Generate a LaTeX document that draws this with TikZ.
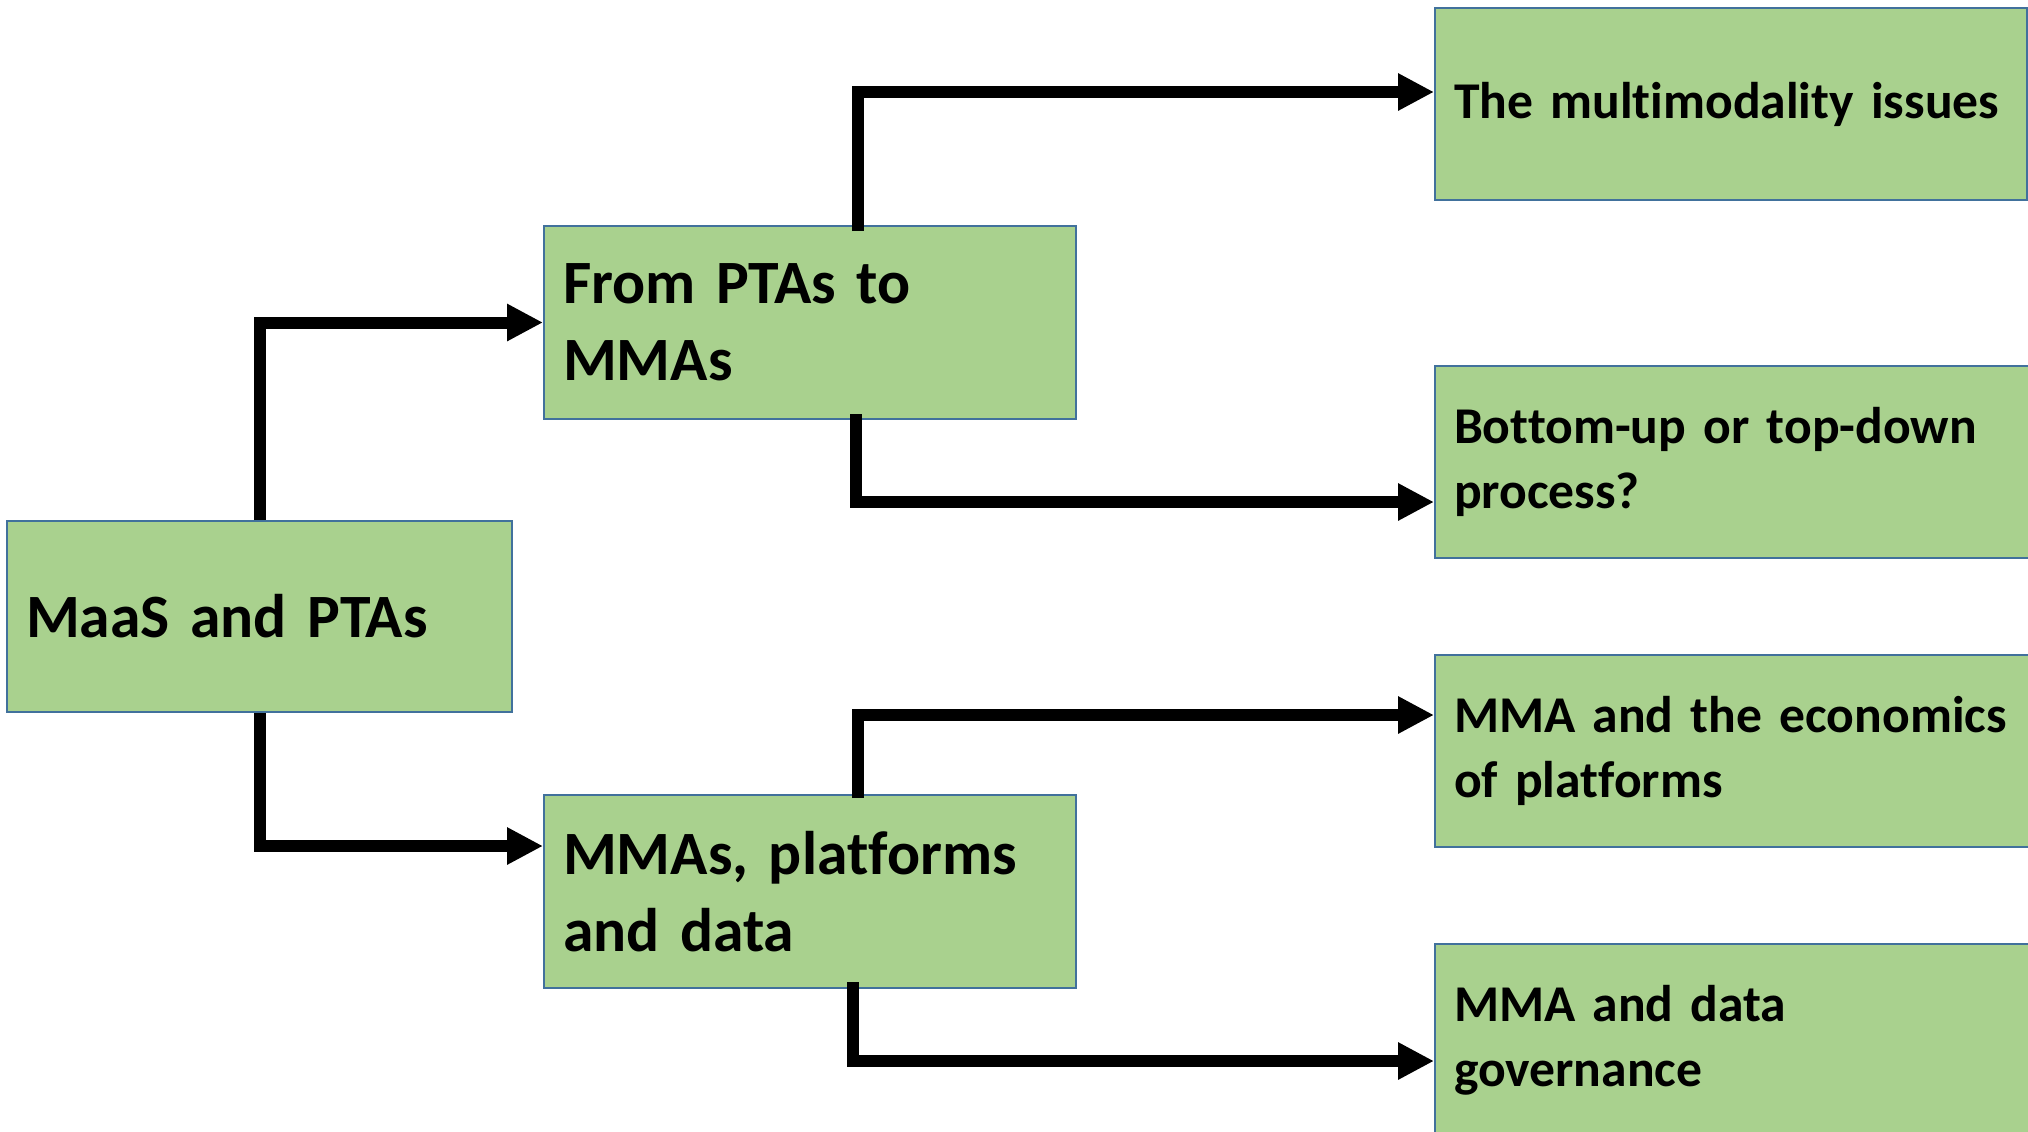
\documentclass[tikz,border=0pt]{standalone}
\usepackage{fontspec}
\setmainfont{Carlito}[Ligatures=NoCommon]
\usetikzlibrary{arrows.meta,calc}
\definecolor{boxfill}{HTML}{A9D18E}
\definecolor{boxline}{HTML}{41719C}
\tikzset{
  box/.style={draw=boxline, line width=1pt, fill=boxfill, anchor=north west,
    inner xsep=9.5pt, inner ysep=0pt, align=left},
  bigtext/.style={font=\fontsize{30.8}{38.5}\selectfont\bfseries},
  smalltext/.style={font=\fontsize{25.8}{32.5}\selectfont\bfseries},
  conn/.style={line width=6pt, line join=miter, -{Triangle[length=18pt,width=17.5pt]}}
}
\begin{document}
\begin{tikzpicture}[x=0.5pt,y=-0.5pt]
\clip (0,0) rectangle (2028,1131);
\fill[white] (0,0) rectangle (2028,1131);
\node[box,bigtext,text width=233.5pt,minimum height=95.5pt] (root) at (6,520) {MaaS and PTAs};
\node[box,bigtext,text width=247pt,minimum height=96.5pt] (mid1) at (543,225) {From PTAs to\\MMAs};
\node[box,bigtext,text width=247pt,minimum height=96.5pt] (mid2) at (543,794) {MMAs, platforms\\and data};
\node[box,smalltext,text width=277pt,minimum height=96pt] (r1) at (1434,7) {The multimodality issues};
\node[box,smalltext,text width=286pt,minimum height=96pt] (r2) at (1434,365) {Bottom-up or top-down\\process?};
\node[box,smalltext,text width=286pt,minimum height=96pt] (r3) at (1434,654) {MMA and the economics\\of platforms};
\node[box,smalltext,text width=286pt,minimum height=96pt] (r4) at (1434,943) {MMA and data\\governance};
\draw[conn] (root.north) |- (mid1.west);
\draw[conn] (root.south) |- ($(mid2.north west)+(0,52)$);
\draw[conn] ($(mid1.north)+(48,6)$) |- ($(r1.west)+(0,-12)$);
\draw[conn] ($(mid1.south)+(46,-6)$) |- ($(r2.west)+(0,40)$);
\draw[conn] ($(mid2.north)+(48,4)$) |- ($(r3.west)+(0,-36)$);
\draw[conn] ($(mid2.south)+(43,-7)$) |- ($(r4.west)+(0,21)$);
\end{tikzpicture}
\end{document}
